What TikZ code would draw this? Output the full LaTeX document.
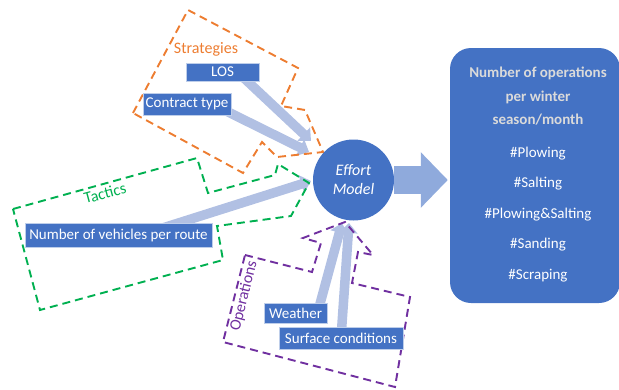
\documentclass[tikz,border=0pt]{standalone}
\usepackage{fontspec}
\setmainfont{Carlito}
\usetikzlibrary{arrows.meta}
\pgfdeclarelayer{background}
\pgfsetlayers{background,main}
\definecolor{boxblue}{HTML}{4472C4}
\definecolor{arrowlight}{HTML}{B1C0E3}
\definecolor{bigarrow}{HTML}{8FAADC}
\definecolor{strat}{HTML}{ED7D31}
\definecolor{tact}{HTML}{00B050}
\definecolor{oper}{HTML}{7030A0}
\definecolor{headtext}{HTML}{DADADA}
\begin{document}
\begin{tikzpicture}[x=1pt,y=-1pt,
  inbox/.style={fill=boxblue, text=white, inner sep=0pt, draw=white!65!boxblue, line width=0.5pt,
    font=\fontsize{15}{18}\selectfont},
  groupline/.style={dash pattern=on 8pt off 5pt, line width=1.9pt},
  feed/.style={draw=arrowlight, line width=9.5pt, -{Triangle[length=10pt,width=18pt]}},
  grouplabel/.style={font=\fontsize{16}{19}\selectfont, inner sep=0pt},
  headline/.style={anchor=base, inner sep=0pt, text=headtext, font=\fontsize{15}{18}\selectfont\bfseries},
  itemline/.style={anchor=base, inner sep=0pt, text=white, font=\fontsize{15}{18}\selectfont},
]
\useasboundingbox (0,0) rectangle (619,389);

% group outlines
\draw[groupline, strat] (133,113) -- (188,10) -- (298,68) -- (281,106) -- (305,110) -- (323,152)
  -- (277,157) -- (262,142) -- (243,173) -- cycle;
\draw[groupline, tact] (13,209) -- (197,158) -- (208,193) -- (275,175) -- (278,164) -- (309,183)
  -- (291,216) -- (217,226) -- (223,260) -- (40,310) -- cycle;
\draw[groupline, oper] (245,255) -- (312,272) -- (321,243) -- (303,238) -- (345,222) -- (373,255)
  -- (358,252) -- (352,283) -- (410,297) -- (395,387) -- (223,342) -- cycle;

% group labels
\node[grouplabel, text=strat] (strattxt) at (206,49) {Strategies};
\node[grouplabel, text=tact, rotate=15] (tacttxt) at (105,193) {Tactics};
\node[grouplabel, text=oper, rotate=76] (opertxt) at (244,296) {Operations};

% input boxes
\node[inbox, minimum width=73pt, minimum height=18pt] (los) at (222.5,72) {LOS};
\node[inbox, minimum width=88pt, minimum height=22pt] (contract) at (187,104) {Contract type};
\node[inbox, minimum width=187pt, minimum height=24.5pt] (veh) at (118.5,235) {Number of vehicles per route};
\node[inbox, minimum width=63pt, minimum height=20pt] (weather) at (295.5,313) {Weather};
\node[inbox, minimum width=124pt, minimum height=22pt] (surface) at (341,338) {Surface conditions};

% effort model
\node[circle, fill=boxblue, minimum size=81pt, inner sep=0pt, text=white, align=center,
  font=\fontsize{16}{19}\selectfont\itshape] (effort) at (353.5,180) {Effort\\Model};

% result box
\node[rounded corners=21pt, fill=boxblue, minimum width=170pt, minimum height=255pt, inner sep=0pt]
  (result) at (535,175.5) {};
\node[headline] (h1) at (538,77) {Number of operations};
\node[headline] (h2) at (538,101) {per winter};
\node[headline] (h3) at (538,124) {season/month};
\node[itemline] (i1) at (538,157) {\#Plowing};
\node[itemline] (i2) at (538,187) {\#Salting};
\node[itemline] (i3) at (538,218) {\#Plowing\&Salting};
\node[itemline] (i4) at (538,248) {\#Sanding};
\node[itemline] (i5) at (538,279) {\#Scraping};

% connectors
\coordinate (tlos) at (311,141);
\coordinate (tcon) at (309,152);
\coordinate (tveh) at (311,181);
\coordinate (twea) at (342,223);
\coordinate (tsur) at (349,223);
\begin{pgfonlayer}{background}
\draw[feed] ([xshift=15pt]los.center) -- (tlos);
\draw[feed] ([xshift=25pt]contract.center) -- (tcon);
\draw[feed] ([xshift=22pt]veh.center) -- (tveh);
\draw[feed] ([xshift=22pt]weather.center) -- (twea);
\draw[feed] (surface.center) -- (tsur);
\end{pgfonlayer}
\draw[draw=bigarrow, line width=28pt, -{Triangle[length=27pt,width=54pt]}]
  (effort.east) -- ([xshift=-2pt]effort.east -| result.west);
\end{tikzpicture}
\end{document}
